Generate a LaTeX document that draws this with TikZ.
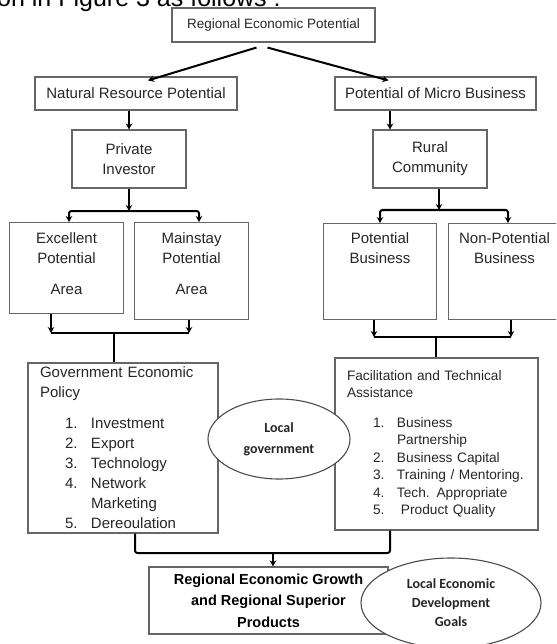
\documentclass[tikz,border=0pt]{standalone}
\usepackage{fontspec}
\setmainfont{Liberation Sans}
\newfontfamily\calfont{Carlito}
\usetikzlibrary{arrows.meta,shapes.geometric,positioning,calc}

\begin{document}
\begin{tikzpicture}[x=1pt,y=-1pt,
  box/.style={draw=black!60,line width=1.1pt,text=black!85,align=center,inner sep=0pt,font=\fontsize{15}{20}\selectfont},
  lbl/.style={text=black!85,align=center,inner sep=0pt,font=\fontsize{15}{20}\selectfont},
  oval/.style={ellipse,draw=black!70,line width=1.1pt,fill=white,inner sep=0pt,text=black!85,align=center,font=\calfont\bfseries\fontsize{14}{21}\selectfont},
  arr/.style={-{Stealth[length=6pt,width=6.5pt]},line width=2pt},
  conn/.style={line width=2pt,rounded corners=2.5pt}]
\useasboundingbox (0,0) rectangle (556,644);
\clip (0,0) rectangle (556,644);
\node[anchor=base west,inner sep=0pt,font=\fontsize{25}{30}\selectfont] (intro) at (-3,7) {on in Figure 3 as follows :};

% upper part
\node[box,minimum width=203,minimum height=34,font=\fontsize{13.5}{18}\selectfont] (rep) at (273.5,25) {Regional Economic Potential};
\node[box,minimum width=202,minimum height=33] (nrp) at (136,93.5) {Natural Resource Potential};
\node[box,minimum width=201,minimum height=33] (pmb) at (435.5,93.5) {Potential of Micro Business};
\node[box,minimum width=114,minimum height=58] (priv) at (129,159) {Private\\Investor};
\node[box,minimum width=114,minimum height=58] (rur) at (430,159) {Rural\\Community};
\draw[arr] ($(rep.south)+(-17,5)$) -- ($(nrp.north)+(12,4)$);
\draw[arr] ($(rep.south)+(-6,5)$) -- ($(pmb.north)+(-47,4)$);
\coordinate (kr) at (390,0);
\draw[arr] (nrp.south -| priv.north) -- (priv.north);
\draw[arr] (pmb.south -| kr) -- (rur.north -| kr);

% areas and businesses
\node[box,minimum width=114,minimum height=91,anchor=north west] (exc) at (9,222) {};
\node[lbl,below=10pt of exc.north] (exct) {Excellent\\Potential\\[11pt]Area};
\node[box,minimum width=114,minimum height=97,anchor=north west] (mai) at (134,222) {};
\node[lbl,below=10pt of mai.north] (mait) {Mainstay\\Potential\\[11pt]Area};
\node[box,minimum width=113,minimum height=96,anchor=north west] (pot) at (323,223) {};
\node[lbl,below=9pt of pot.north] (pott) {Potential\\Business};
\node[box,minimum width=112,minimum height=96,anchor=north west] (npot) at (448,223) {};
\node[lbl,below=9pt of npot.north] (npott) {Non-Potential\\Business};

\coordinate (jp) at (129,211);
\coordinate (jp1) at (69,211);
\coordinate (jp2) at (199,211);
\draw[arr] (priv.south) -- (jp);
\draw[conn,{Stealth[length=6pt,width=6.5pt]}-{Stealth[length=6pt,width=6.5pt]}] (exc.north -| jp1) -- (jp1) -- (jp2) -- (mai.north -| jp2);
\coordinate (jr) at (439,210);
\coordinate (jr1) at (380,210);
\coordinate (jr2) at (508,210);
\draw[arr] (rur.south -| jr) -- (jr);
\draw[conn,{Stealth[length=6pt,width=6.5pt]}-{Stealth[length=6pt,width=6.5pt]}] (pot.north -| jr1) -- (jr1) -- (jr2) -- (npot.north -| jr2);

% policy boxes
\node[box,align=left,text width=166,inner xsep=12pt,minimum height=170] (gov) at (123,448) {Government Economic\\Policy\\[11pt]
\hspace*{25pt}\makebox[26pt][l]{1.}Investment\\
\hspace*{25pt}\makebox[26pt][l]{2.}Export\\
\hspace*{25pt}\makebox[26pt][l]{3.}Technology\\
\hspace*{25pt}\makebox[26pt][l]{4.}Network\\
\hspace*{51pt}Marketing\\
\hspace*{25pt}\makebox[26pt][l]{5.}Dereoulation};
\node[box,align=left,text width=193,inner xsep=5pt,minimum height=172,font=\fontsize{13.7}{17.5}\selectfont] (fac) at (436.5,444) {\hspace*{7pt}Facilitation and Technical\\
\hspace*{7pt}Assistance\\[12pt]
\hspace*{33pt}\makebox[24pt][l]{1.}Business\\
\hspace*{57pt}Partnership\\
\hspace*{33pt}\makebox[24pt][l]{2.}Business Capital\\
\hspace*{33pt}\makebox[24pt][l]{3.}Training / Mentoring.\\
\hspace*{33pt}\makebox[24pt][l]{4.}Tech. Appropriate\\
\hspace*{33pt}\makebox[28pt][l]{5.}Product Quality};

\coordinate (jl) at (114,333);
\coordinate (jl1) at (51,333);
\coordinate (jl2) at (189,333);
\draw[arr] (exc.south -| jl1) -- (jl1);
\draw[arr] (mai.south -| jl2) -- (jl2);
\draw[conn] (jl1) -- (jl2);
\draw[line width=2pt] (jl) -- (gov.north -| jl);
\coordinate (jq) at (436,337);
\coordinate (jq1) at (374,337);
\coordinate (jq2) at (511,337);
\draw[arr] (pot.south -| jq1) -- (jq1);
\draw[arr] (npot.south -| jq2) -- (jq2);
\draw[conn] (jq1) -- (jq2);
\draw[line width=2pt] (jq) -- (fac.north -| jq);

\node[oval,minimum width=142,minimum height=80] (lgov) at (279,439) {Local\\government};

% result
\node[box,minimum width=239,minimum height=67,text=black,font=\bfseries\fontsize{14.5}{21.5}\selectfont] (res) at (268.5,600.5) {Regional Economic Growth\\and Regional Superior\\Products};
\coordinate (jb) at (273,553);
\coordinate (jb1) at (135,553);
\coordinate (jb2) at (390,553);
\draw[conn] (gov.south -| jb1) -- (jb1) -- (jb2) -- (fac.south -| jb2);
\draw[arr] (jb) -- (res.north -| jb);
\node[oval,minimum width=180,minimum height=90,font=\calfont\bfseries\fontsize{14}{19}\selectfont] (goal) at (451,603) {Local Economic\\Development\\Goals};
\end{tikzpicture}
\end{document}
